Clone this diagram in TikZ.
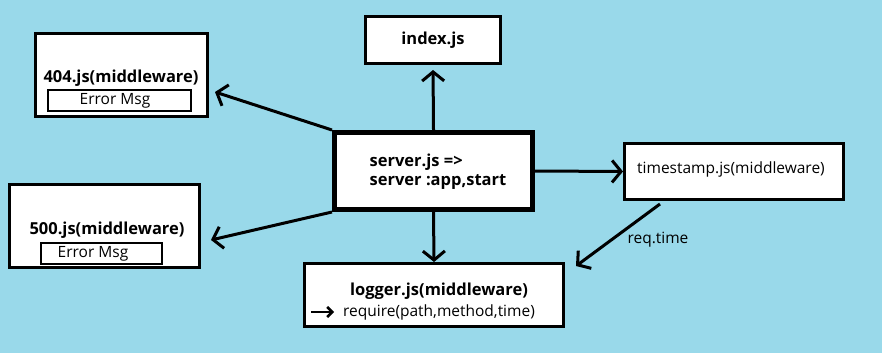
\documentclass[tikz,border=0pt]{standalone}
\usepackage{fontspec}
\setmainfont{Open Sans}
\usetikzlibrary{arrows.meta}

\definecolor{paintblue}{RGB}{153,217,234}

\tikzset{
  box/.style={draw=black, fill=white, line width=3pt, inner sep=0pt},
  msgbox/.style={draw=black, fill=white, line width=2.7pt, inner sep=0pt},
  link/.style={line width=3pt, -{Straight Barb[length=9pt,width=22pt,line width=3pt]}},
  ttl/.style={font=\bfseries\fontsize{16.5}{18}\selectfont, inner sep=0pt},
  txt/.style={font=\fontsize{15.5}{17}\selectfont, inner sep=0pt},
}

\begin{document}
\begin{tikzpicture}[x=1pt,y=-1pt]
	\fill[paintblue] (0,0) rectangle (882,353);
	\useasboundingbox (0,0) rectangle (882,353);

	%% main boxes
	\node[box, minimum width=135pt, minimum height=47pt, ttl] (idx) at (433,40) {index.js};
	\node[box, line width=5pt, minimum width=198pt, minimum height=77pt] (srv) at (433.5,171) {};
	\node[ttl, align=left] (srvtext) at (438,172) {server.js =>\\[1pt]server :app,start};
	\node[box, minimum width=219pt, minimum height=56pt] (ts) at (734,171.5) {};
	\node[txt] (tstext) at (731,169) {timestamp.js(middleware)};
	\node[box, minimum width=259pt, minimum height=63pt] (log) at (434,295) {};
	\node[ttl] (logtitle) at (439,291) {logger.js(middleware)};
	\node[txt] (logreq) at (439,312) {require(path,method,time)};

	%% error handlers
	\node[box, minimum width=172pt, minimum height=83pt] (e404) at (121.5,75) {};
	\node[ttl] (e404title) at (121,78) {404.js(middleware)};
	\node[msgbox, minimum width=143pt, minimum height=21pt] (msg404) at (119.5,100.5) {};
	\node[txt] (msg404text) at (115,100.5) {Error Msg};

	\node[box, minimum width=190pt, minimum height=83pt] (e500) at (104.5,226) {};
	\node[ttl] (e500title) at (107,230) {500.js(middleware)};
	\node[msgbox, minimum width=121pt, minimum height=21pt] (msg500) at (101.5,253.5) {};
	\node[txt] (msg500text) at (93,253.5) {Error Msg};

	%% free ends
	\coordinate (to404) at (215,92);
	\coordinate (to500) at (211,240);
	\coordinate (tsout) at (660,204);
	\coordinate (tolog) at (576,266);
	\coordinate (reqa) at (311,312);
	\coordinate (reqb) at (334,312);

	%% arrows
	\draw[link, shorten >=5pt] (srv.north) -- (idx.south);
	\draw[link] (srv.east) -- (ts.west);
	\draw[link] (srv.south) -- (log.north);
	\draw[link] (srv.north west) -- (to404);
	\draw[link] (srv.south west) -- (to500);
	\draw[link] (tsout) -- (tolog);
	\node[txt] (reqtime) at (658,240) {req.time};

	\draw[line width=2.5pt, -{Straight Barb[length=5pt,width=10pt,line width=2.5pt]}] (reqa) -- (reqb);
\end{tikzpicture}
\end{document}
